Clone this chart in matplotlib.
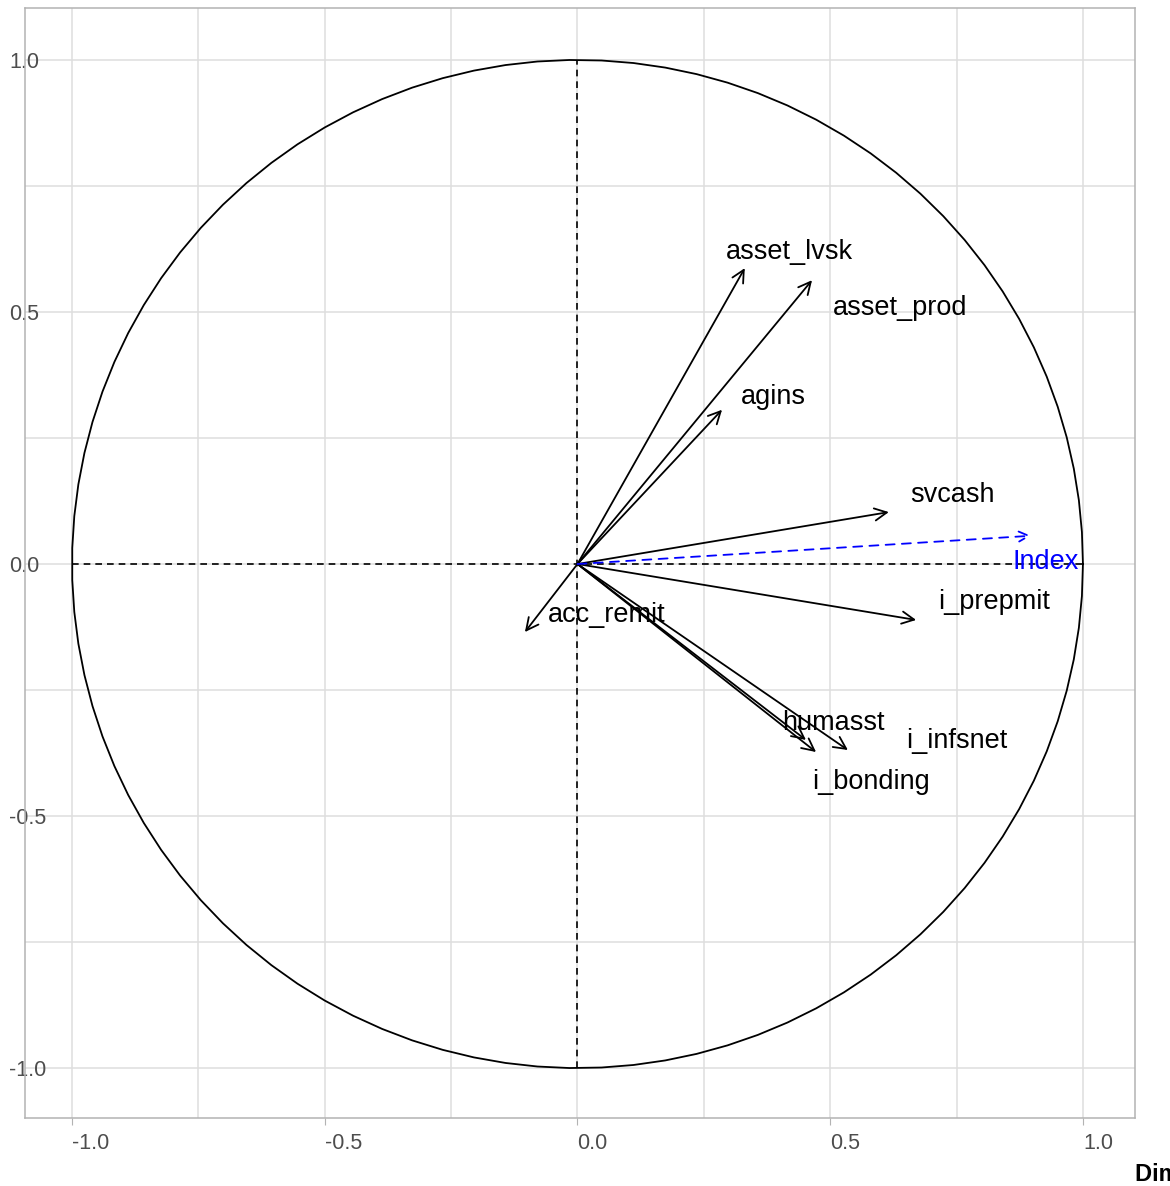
import numpy as np
import matplotlib
matplotlib.use('Agg')
import matplotlib.pyplot as plt

plt.rcParams['font.family'] = ['Liberation Sans', 'DejaVu Sans']

# coordonnees des variables (Dim 1, Dim 2)
variaveis = ['asset_lvsk', 'asset_prod', 'agins', 'svcash', 'i_prepmit',
             'acc_remit', 'humasst', 'i_infsnet', 'i_bonding']
dim1 = [0.331, 0.464, 0.286, 0.616, 0.670, -0.104, 0.452, 0.535, 0.472]
dim2 = [0.587, 0.563, 0.306, 0.103, -0.111, -0.135, -0.349, -0.369, -0.373]

# posicao dos rotulos
lab_x = [0.420, 0.638, 0.387, 0.741, 0.824, 0.058, 0.507, 0.751, 0.581]
lab_y = [0.619, 0.508, 0.331, 0.137, -0.075, -0.101, -0.315, -0.351, -0.433]

# variavel suplementar
sup_nome = 'Index'
sup_x, sup_y = 0.897, 0.056
sup_lab = (0.927, 0.004)

ticks = [-1.0, -0.5, 0.0, 0.5, 1.0]
minor = [-0.75, -0.25, 0.25, 0.75]

fig = plt.figure(figsize=(11.7, 11.86), dpi=100)
ax = fig.add_axes([25 / 1170, 68 / 1186, 1110 / 1170, 1110 / 1186])
ax.set_xlim(-1.093, 1.103)
ax.set_ylim(-1.099, 1.103)

for t in ticks + minor:
    ax.axvline(t, color='#dedede', lw=1.1, zorder=0)
    ax.axhline(t, color='#dedede', lw=1.1, zorder=0)

# circulo
th = np.linspace(0, 2 * np.pi, 100)
ax.plot(np.cos(th), np.sin(th), color='black', lw=1.3)
ax.plot([-1, 1], [0, 0], color='black', ls=(0, (4, 3)), lw=1.2)
ax.plot([0, 0], [-1, 1], color='black', ls=(0, (4, 3)), lw=1.2)

for nome, x, y, lx, ly in zip(variaveis, dim1, dim2, lab_x, lab_y):
    ax.annotate('', xy=(x, y), xytext=(0, 0),
                arrowprops=dict(arrowstyle='->', color='black', lw=1.3,
                                mutation_scale=22, shrinkA=0, shrinkB=0))
    ax.text(lx, ly, nome, fontsize=19.5, ha='center', va='center', color='black')

ax.annotate('', xy=(sup_x, sup_y), xytext=(0, 0),
            arrowprops=dict(arrowstyle='->', color='blue', lw=1.3,
                            linestyle=(0, (5, 4)),
                            mutation_scale=18, shrinkA=0, shrinkB=0))
ax.text(sup_lab[0], sup_lab[1], sup_nome, fontsize=19.5, ha='center',
        va='center', color='blue')

ax.set_xticks(ticks)
ax.set_yticks(ticks)
ax.set_xticklabels(['%.1f' % t for t in ticks], ha='left', color='#4d4d4d', fontsize=15.5)
ax.set_yticklabels(['%.1f' % t for t in ticks], color='#4d4d4d', fontsize=15.5)
ax.tick_params(axis='x', length=5, color='#b3b3b3', pad=6)
ax.tick_params(axis='y', length=0, pad=11.5)
for lbl in ax.get_yticklabels():
    lbl.set_horizontalalignment('left')
for s in ax.spines.values():
    s.set_color('#b3b3b3')
    s.set_linewidth(1.1)

fig.text(1135 / 1170, 1 - 1175 / 1186, 'Dim 1 (42.1%)', fontsize=17,
         fontweight='bold', ha='left', va='center')

fig.savefig('out.png', dpi=100)
